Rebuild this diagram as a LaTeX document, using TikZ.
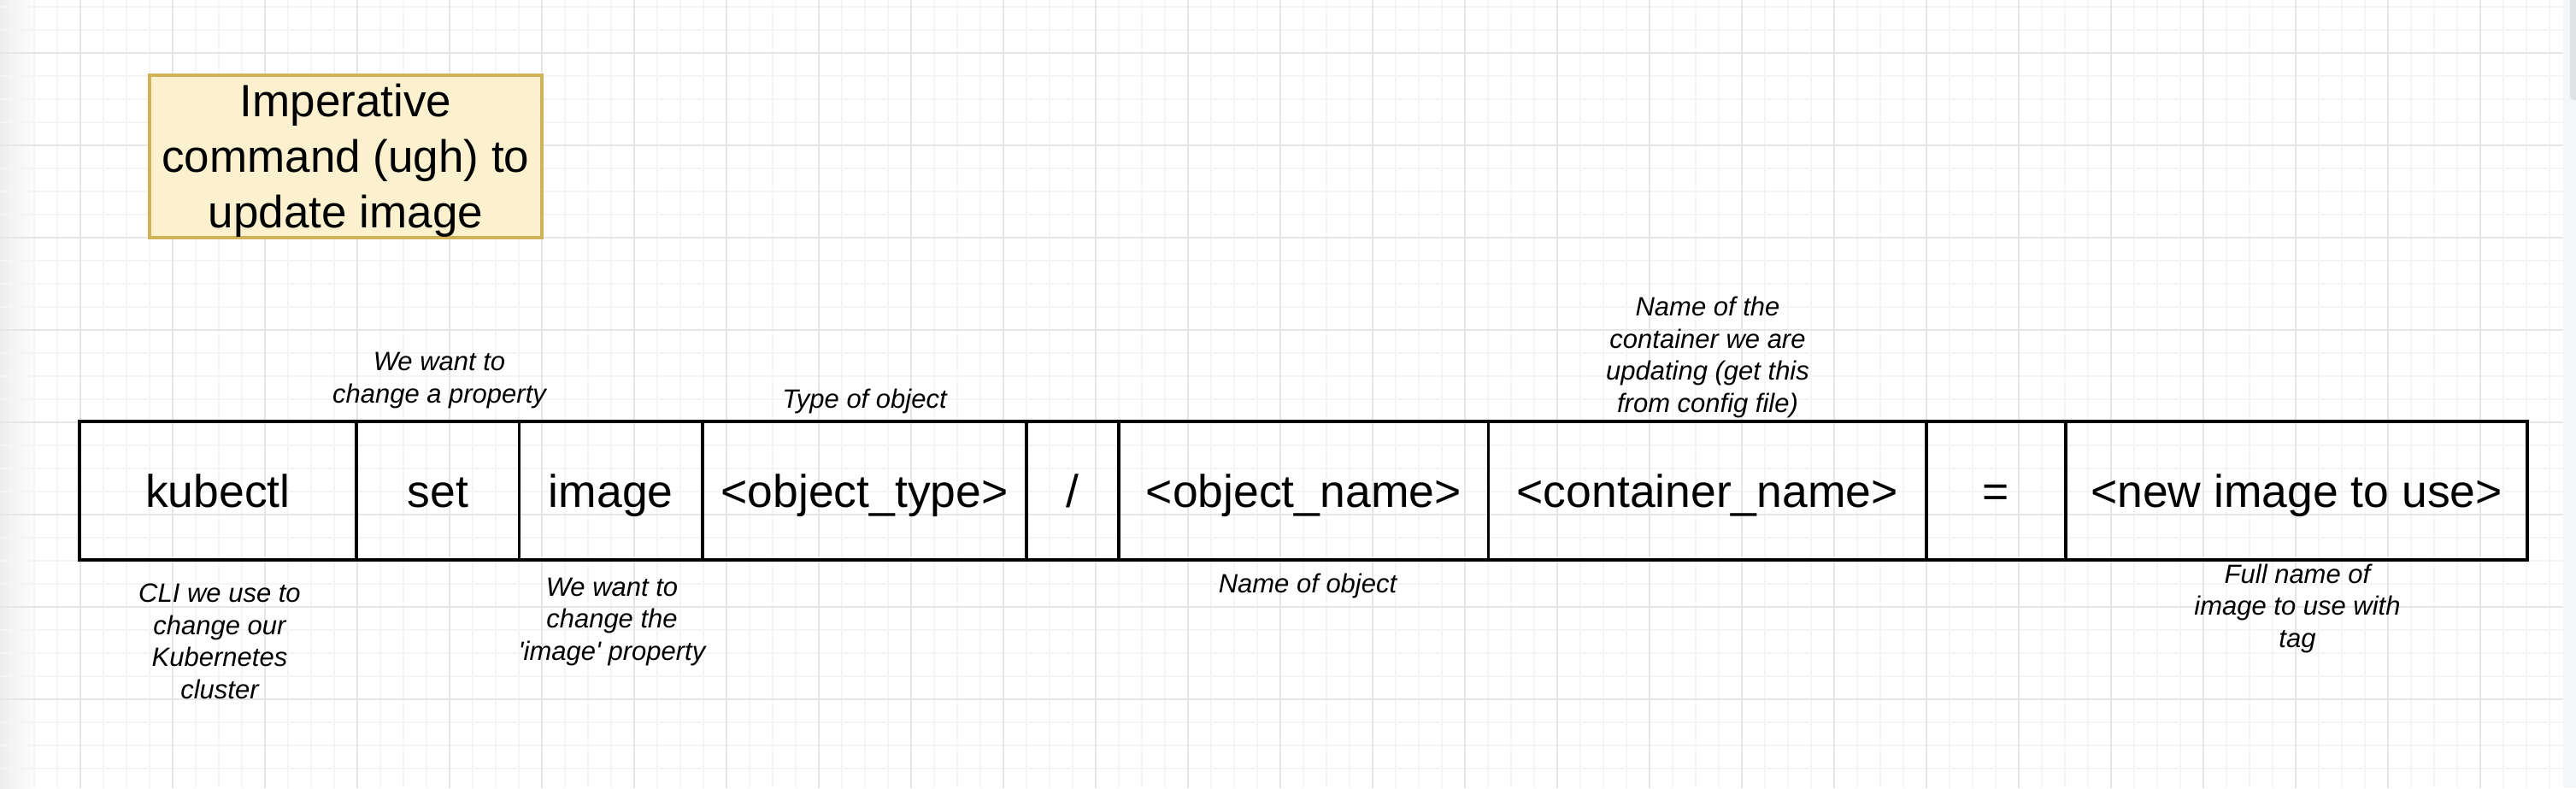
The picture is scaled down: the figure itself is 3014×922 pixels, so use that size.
\documentclass[tikz,border=0pt]{standalone}
\usepackage{fontspec}
\newfontfamily\hv{Liberation Sans}
\definecolor{ybfill}{HTML}{FCF1CF}
\definecolor{ybline}{HTML}{D0B258}
\definecolor{gminor}{HTML}{F5F5F5}
\definecolor{gmajor}{HTML}{E6E6E6}
\definecolor{sidebg}{HTML}{F5F6F8}
\definecolor{scrollc}{HTML}{E1E2E5}
\tikzset{
  minorgrid/.style={draw=gminor, line width=1.5pt},
  majorgrid/.style={draw=gmajor, line width=1.8pt},
  cell/.style={draw=black, line width=3.8pt, minimum height=162pt, inner sep=0pt,
    text height=38pt, text depth=0pt, font=\hv\fontsize{53.5}{64}\selectfont},
  note/.style={font=\hv\itshape\fontsize{31}{37.5}\selectfont, align=center,
    anchor=base, inner sep=0pt},
  titlebox/.style={draw=ybline, fill=ybfill, line width=3.5pt, minimum width=459pt,
    minimum height=190pt, align=center, inner sep=0pt,
    font=\hv\fontsize{53}{65}\selectfont}
}
\begin{document}
\begin{tikzpicture}[x=1pt,y=-1pt]
\useasboundingbox (0,0) rectangle (3014,922);
\fill[white] (0,0) rectangle (3014,922);
\shade[left color=black!7, right color=white] (0,0) rectangle (45,922);
% grid
\foreach \k in {0,...,110} { \draw[minorgrid] ({13+27*\k},0) -- ++(0,922); }
\foreach \k in {0,...,33} { \draw[minorgrid] (0,{8+27*\k}) -- ++(2999,0); }
\foreach \k in {1,...,27} { \draw[majorgrid] ({-14+108*\k},0) -- ++(0,922); }
\foreach \k in {0,...,7} { \draw[majorgrid] (0,{62+108*\k}) -- ++(2999,0); }
% right side strip and scrollbar
\fill[sidebg] (2999,0) rectangle (3014,922);
\fill[scrollc, rounded corners=5pt] (3007,-10) rectangle (3020,117);

% title box
\node[titlebox] (title) at (404.5,183) {\rule{0pt}{47pt}Imperative\\command (ugh) to\\update image};

% command cells
\node[cell, minimum width=324pt]   (kubectl)   at (255,574)     {kubectl};
\node[cell, minimum width=190.5pt] (set)       at (512.25,574)  {set};
\node[cell, minimum width=214.5pt] (image)     at (714.75,574)  {image};
\node[cell, minimum width=379pt]   (objtype)   at (1011.5,574)  {<object\_type>};
\node[cell, minimum width=108pt]   (slash)     at (1255,574)    {/};
\node[cell, minimum width=432.5pt] (objname)   at (1525.25,574) {<object\_name>};
\node[cell, minimum width=512.5pt] (container) at (1997.75,574) {<container\_name>};
\node[cell, minimum width=163pt]   (eq)        at (2335.5,574)  {=};
\node[cell, minimum width=540pt]   (newimg)    at (2687,574)    {<new image to use>};

% annotations above (anchor = baseline of last line)
\node[note] (nset)   at (514,471)    {We want to\\change a property};
\node[note] (ntype)  at (1011.5,477) {Type of object};
\node[note] (ncont)  at (1998,482)   {Name of the\\container we are\\updating (get this\\from config file)};
% annotations below
\node[note] (nkube)  at (257,817)    {CLI we use to\\change our\\Kubernetes\\cluster};
\node[note] (nimage) at (716,772)    {We want to\\change the\\'image' property};
\node[note] (nname)  at (1530,693)   {Name of object};
\node[note] (nnew)   at (2688,757)   {Full name of\\image to use with\\tag};
\end{tikzpicture}
\end{document}
